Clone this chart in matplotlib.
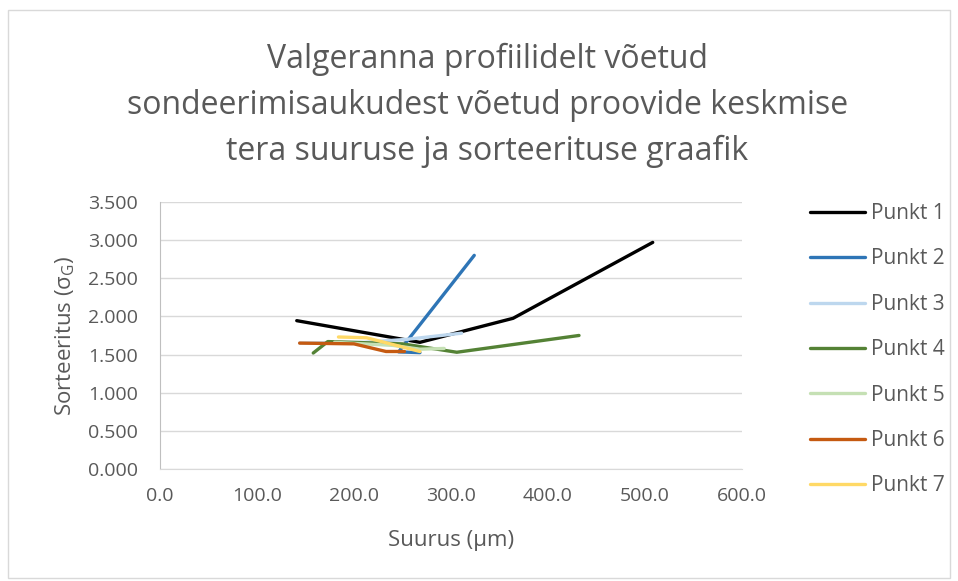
import matplotlib.pyplot as plt
from matplotlib.patches import Rectangle

plt.rcParams['font.family'] = ['Open Sans', 'DejaVu Sans']

# mean grain size (µm) vs sorting (sigma_G)
p1_x = [141, 268, 364, 508]
p1_y = [1.944, 1.660, 1.975, 2.970]
p2_x = [268, 246, 324]
p2_y = [1.525, 1.535, 2.800]
p3_x = [144, 210, 255, 311]
p3_y = [1.650, 1.660, 1.700, 1.780]
p4_x = [158, 173, 250, 306, 432]
p4_y = [1.520, 1.670, 1.640, 1.530, 1.750]
p5_x = [180, 240, 268, 293]
p5_y = [1.660, 1.620, 1.570, 1.580]
p6_x = [144, 200, 233, 252]
p6_y = [1.650, 1.640, 1.540, 1.540]
p7_x = [184, 213, 268]
p7_y = [1.730, 1.720, 1.540]

labels = ["Punkt 1", "Punkt 2", "Punkt 3", "Punkt 4", "Punkt 5", "Punkt 6", "Punkt 7"]
colors = ["#000000", "#2E75B6", "#BDD7EE", "#548235", "#C5E0B4", "#C55A11", "#FFD966"]
xs = [p1_x, p2_x, p3_x, p4_x, p5_x, p6_x, p7_x]
ys = [p1_y, p2_y, p3_y, p4_y, p5_y, p6_y, p7_y]

xticks = [0, 100, 200, 300, 400, 500, 600]
yticks = [0, 0.5, 1.0, 1.5, 2.0, 2.5, 3.0, 3.5]

fig = plt.figure(figsize=(9.58, 5.81), dpi=100)
ax = fig.add_axes([0.167, 0.1928, 0.6075, 0.4596])

# chart frame
fig.patches.append(Rectangle((0.008, 0.005), 0.984, 0.978, transform=fig.transFigure,
                             fill=False, edgecolor="#D9D9D9", linewidth=1))

for x, y, c, lab in zip(xs, ys, colors, labels):
    ax.plot(x, y, color=c, linewidth=2.4, label=lab, solid_capstyle="round",
            solid_joinstyle="round")

ax.set_xlim(0, 600)
ax.set_ylim(0, 3.5)
ax.set_xticks(xticks)
ax.set_xticklabels([f"{v:.1f}" for v in xticks])
ax.set_yticks(yticks)
ax.set_yticklabels([f"{v:.3f}" for v in yticks])
ax.tick_params(length=0, labelsize=14, colors="#595959")
ax.tick_params(axis="x", pad=13)
ax.tick_params(axis="y", pad=16)
ax.grid(axis="y", color="#D9D9D9", linewidth=1)
ax.set_axisbelow(True)
for s in ["top", "right"]:
    ax.spines[s].set_visible(False)
ax.spines["left"].set_color("#BFBFBF")
ax.spines["bottom"].set_color("#D9D9D9")

ax.set_xlabel("Suurus (µm)", fontsize=16, color="#595959", labelpad=18)
ax.set_ylabel("Sorteeritus (σ$_\\mathregular{G}$)", fontsize=16, color="#595959", labelpad=8)

fig.text(0.509, 0.926, "Valgeranna profiilidelt võetud\nsondeerimisaukudest võetud proovide keskmise\ntera suuruse ja sorteerituse graafik",
         ha="center", va="top", fontsize=23, color="#595959", linespacing=1.5)

leg = ax.legend(loc="upper left", bbox_to_anchor=(1.085, 1.066), frameon=False,
                fontsize=15, labelspacing=1.17, handlelength=2.65, handletextpad=0.25)
for t in leg.get_texts():
    t.set_color("#595959")

fig.savefig("out.png", dpi=100)
